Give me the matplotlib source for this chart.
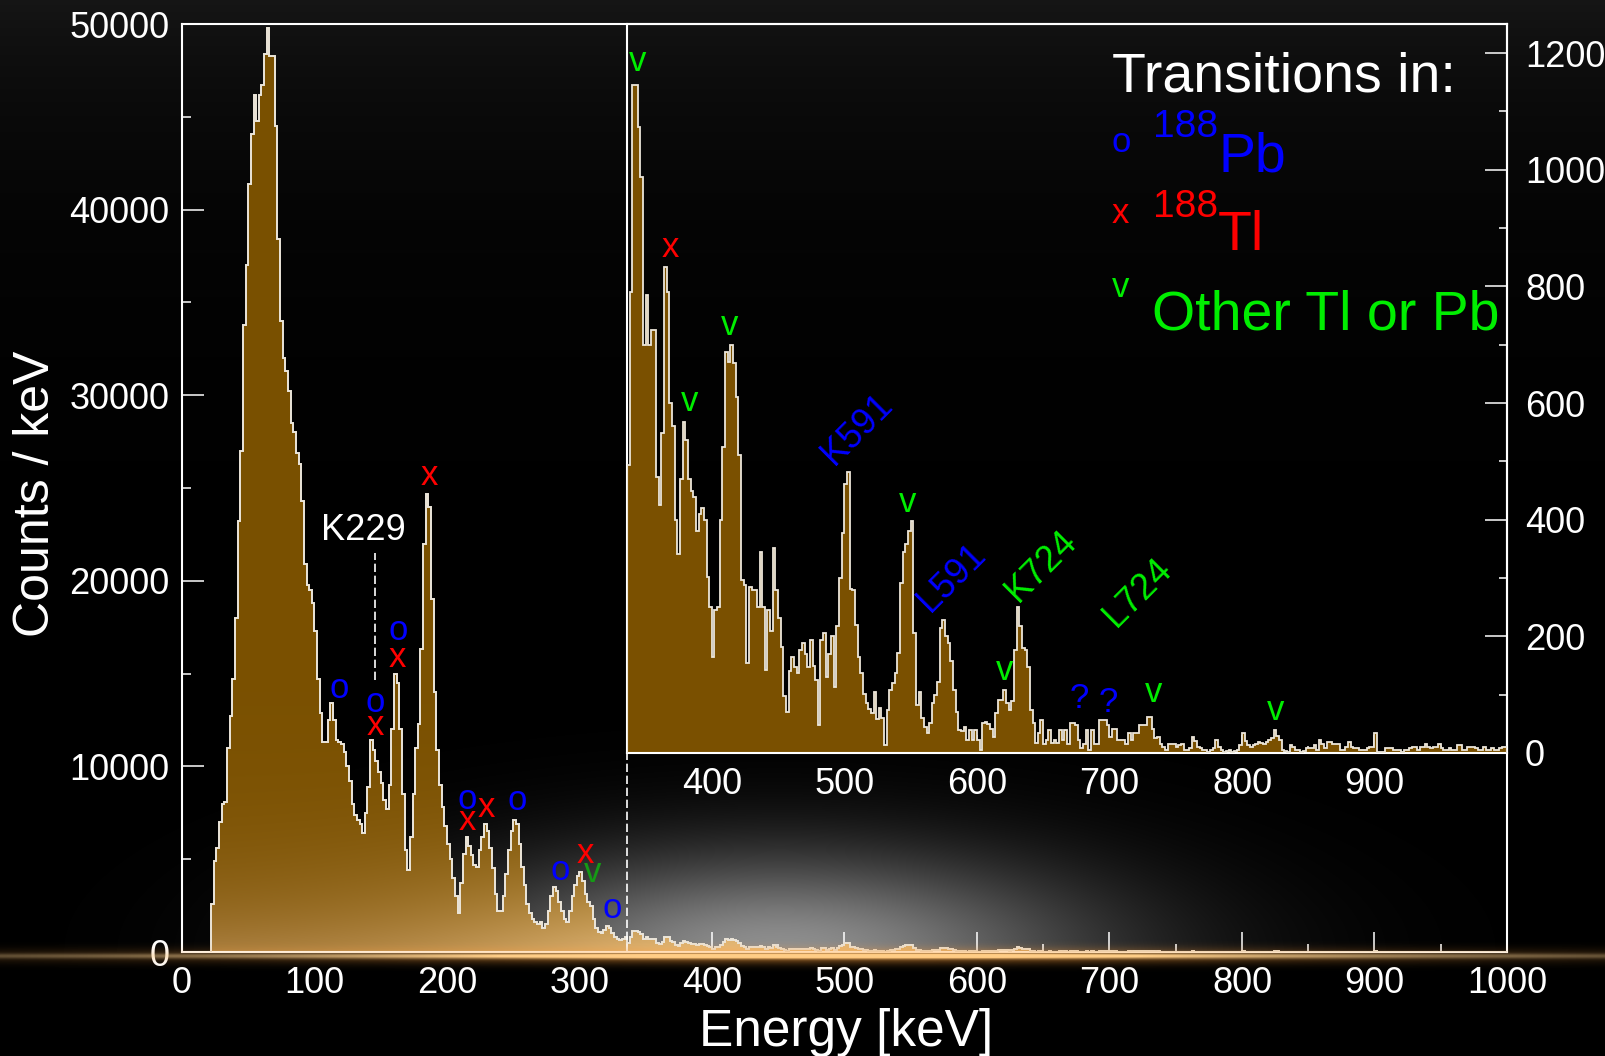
import numpy as np
import matplotlib
matplotlib.use("Agg")
import matplotlib.pyplot as plt
import matplotlib.ticker as mticker

W_PX, H_PX, DPI = 1606, 1056, 100

BIN_KEV = 2
LOW_START_KEV = 22
INSET_START_KEV = 336

# counts / keV, 2 keV bins from 22 keV up to 336 keV
LOW_COUNTS = [
    2600, 4900, 5600, 7000, 8000, 8100, 11000, 12700, 14700, 18000,
    23200, 27000, 33800, 37000, 41400, 44100, 46200, 44800, 46200, 46700,
    48400, 49800, 48300, 48300, 44500, 38400, 34000, 32000, 31300, 30200,
    28500, 28000, 26900, 26300, 24300, 20900, 19800, 19500, 18800, 17300,
    14700, 12900, 11300, 11300, 12500, 13400, 12500, 11400, 11300, 11200,
    10800, 10000, 9200, 8000, 7400, 7100, 6900, 6400, 7500, 8900,
    11400, 10900, 10300, 9700, 9100, 8200, 7700, 9000, 12000, 15000,
    14500, 12000, 8500, 5500, 4400, 6200, 8500, 11000, 12300, 16300,
    22000, 24700, 24000, 19000, 14000, 10900, 9000, 7800, 6800, 5800,
    5000, 4000, 3000, 2100, 3700, 5300, 6200, 5700, 5200, 4700,
    4600, 5500, 6200, 6900, 6500, 5600, 4500, 3100, 2200, 2200,
    3000, 4200, 5500, 6500, 7100, 6900, 5800, 4600, 3600, 2600,
    2100, 1800, 1600, 1500, 1600, 1300, 1500, 2200, 3000, 3500,
    3300, 2700, 2200, 1800, 1600, 2200, 3000, 3600, 4100, 4300,
    3800, 3100, 2700, 2500, 1800, 1300, 1100, 1000, 1200, 1400,
    1300, 1000, 800, 700, 650, 700, 800,
]

# counts / keV, 2 keV bins from 336 keV to 1000 keV (inset, and tail of main)
INSET_COUNTS = [
    494, 790, 1145, 1145, 1074, 988, 700, 785, 700, 725,
    725, 474, 425, 548, 834, 791, 600, 560, 400, 342,
    470, 568, 537, 470, 450, 439, 380, 410, 420, 399,
    302, 251, 165, 245, 250, 399, 525, 688, 671, 700,
    668, 611, 511, 297, 288, 154, 285, 280, 280, 251,
    345, 250, 142, 245, 210, 351, 280, 231, 182, 97,
    71, 140, 165, 148, 137, 177, 188, 170, 148, 194,
    150, 125, 48, 194, 205, 131, 170, 200, 114, 217,
    300, 377, 462, 482, 282, 279, 220, 165, 137, 102,
    85, 75, 68, 105, 59, 77, 60, 14, 74, 108,
    120, 137, 171, 291, 345, 359, 380, 397, 205, 82,
    105, 60, 45, 34, 51, 85, 100, 122, 214, 228,
    200, 188, 157, 108, 71, 40, 37, 45, 22, 40,
    22, 40, 22, 5, 51, 54, 50, 42, 28, 68,
    91, 91, 108, 85, 74, 90, 177, 251, 217, 180,
    176, 148, 74, 51, 17, 34, 57, 16, 22, 40,
    17, 22, 17, 40, 22, 40, 16, 51, 51, 48,
    22, 8, 16, 40, 5, 40, 16, 16, 57, 57,
    57, 48, 28, 42, 42, 22, 22, 22, 16, 34,
    22, 34, 34, 48, 48, 48, 62, 62, 42, 25,
    28, 16, 10, 5, 16, 16, 16, 11, 14, 16,
    5, 6, 8, 28, 20, 11, 8, 6, 5, 2,
    6, 8, 22, 10, 5, 2, 4, 5, 2, 4,
    5, 14, 34, 20, 14, 11, 14, 16, 19, 17,
    16, 19, 22, 25, 40, 30, 22, 5, 3, 2,
    14, 10, 5, 5, 2, 4, 8, 8, 8, 14,
    5, 22, 15, 8, 19, 19, 16, 16, 16, 5,
    5, 10, 19, 11, 8, 8, 5, 6, 6, 8,
    11, 11, 34, 2, 2, 2, 8, 8, 8, 5,
    5, 5, 2, 5, 5, 8, 11, 11, 5, 11,
    11, 16, 10, 8, 11, 11, 16, 8, 5, 5,
    8, 5, 5, 14, 14, 5, 5, 11, 11, 11,
    8, 5, 5, 11, 5, 5, 8, 5, 5, 8,
    11, 11,
]

# peak tags on the main spectrum (energy, count at text baseline, symbol, nucleus)
MAIN_TAG_KEV = [118.7, 145.7, 145.7, 162.8, 162.8, 186.7, 215.6, 215.6, 230.0,
                253.3, 285.8, 304.0, 310.0, 324.8]
MAIN_TAG_Y = [13670, 12950, 11700, 16810, 15380, 25160, 7690, 6580, 7290,
              7650, 3880, 4780, 3790, 1820]
MAIN_TAG_TXT = ["o", "o", "x", "o", "x", "x", "o", "x", "x", "o", "o", "x", "v", "o"]
MAIN_TAG_KIND = ["pb", "pb", "tl", "pb", "tl", "tl", "pb", "tl", "tl", "pb", "pb", "tl",
                 "other_dim", "pb"]

# peak tags in the inset
INSET_TAG_KEV = [343.6, 368.8, 383.4, 413.6, 548.0, 621.0, 677.0, 699.0, 733.6, 825.4]
INSET_TAG_Y = [1170, 850, 587, 716, 414, 125, 77, 71, 88, 57]
INSET_TAG_TXT = ["v", "x", "v", "v", "v", "v", "?", "?", "v", "v"]
INSET_TAG_KIND = ["other", "tl", "other", "other", "other", "other", "unknown",
                  "unknown", "other", "other"]

# conversion-electron lines in the inset (rotated)
CE_TXT = ["K591", "L591", "K724", "L724"]
CE_KEV = [492.0, 565.0, 631.0, 705.0]
CE_Y = [492, 240, 257, 214]
CE_KIND = ["pb", "pb", "other", "other"]

K229_KEV, K229_LABEL_Y, K229_LINE = 136.8, 22200, (145.7, 14650, 21500)

KIND_COLOR = {
    "pb": "#0000ff",
    "tl": "#ff0000",
    "other": "#00ee00",
    "other_dim": "#159a15",
    "unknown": "#0000ff",
}

FILL_TOP = np.array([0.478, 0.314, 0.0])
FILL_LOW = np.array([0.66, 0.49, 0.24])
EDGE = "#ece6da"
FONT = ["Liberation Sans", "DejaVu Sans"]
TICK_FS = 26
TAG_FS = 25

# axes boxes in figure pixels (left, top, right, bottom)
MAIN_BOX = (182, 24, 1507, 952)
INSET_BOX = (627, 24, 1507, 753)

GLOW_X, GLOW_SX, GLOW_SY, GLOW_PEAK = 780.0, 320.0, 100.0, 0.56


def px_rect(box):
    l, t, r, b = box
    return [l / W_PX, 1 - b / H_PX, (r - l) / W_PX, (b - t) / H_PX]


def fx(px):
    return px / W_PX


def fy(py):
    return 1 - py / H_PX


def glow_at(xp, yp, base_y):
    g = GLOW_PEAK * np.exp(-((xp - GLOW_X) / GLOW_SX) ** 2 - ((base_y - yp) / GLOW_SY) ** 2)
    return g * (yp <= base_y)


def main():
    plt.rcParams["font.family"] = FONT
    fig = plt.figure(figsize=(W_PX / DPI, H_PX / DPI), dpi=DPI)
    fig.patch.set_facecolor("black")

    base_y = MAIN_BOX[3]
    yy, xx = np.mgrid[0:H_PX, 0:W_PX].astype(float) + 0.5

    # background: dark gradient at top, white glow rising from the baseline
    bg = np.clip(0.085 * np.exp(-yy / 150.0) + glow_at(xx, yy, base_y), 0, 1)
    ax_bg = fig.add_axes([0, 0, 1, 1], zorder=-10)
    ax_bg.imshow(np.dstack([bg] * 3), extent=[0, 1, 0, 1], aspect="auto", origin="upper")
    ax_bg.set_axis_off()

    # main spectrum
    ax = fig.add_axes(px_rect(MAIN_BOX), zorder=1)
    ax.set_facecolor("none")
    low = np.asarray(LOW_COUNTS, float)
    ins = np.asarray(INSET_COUNTS, float)
    low_edges = LOW_START_KEV + BIN_KEV * np.arange(len(low) + 1)
    ins_edges = INSET_START_KEV + BIN_KEV * np.arange(len(ins) + 1)
    all_counts = np.concatenate([low, ins])
    all_edges = np.concatenate([low_edges, ins_edges[1:]])

    fill = ax.stairs(all_counts, all_edges, baseline=0, fill=True, color=FILL_TOP, lw=0, zorder=2)
    # shading of the fill: warmer toward the baseline, lit by the glow
    ck = np.linspace(0, 50000, 700)[:, None]
    ek = np.linspace(0, 1000, 400)[None, :]
    xp = MAIN_BOX[0] + ek * (MAIN_BOX[2] - MAIN_BOX[0]) / 1000.0
    yp = MAIN_BOX[3] - ck * (MAIN_BOX[3] - MAIN_BOX[1]) / 50000.0
    t = np.exp(-ck / 3400.0) * np.ones_like(ek)
    g = glow_at(xp, yp, base_y)
    grad = FILL_TOP * (1 - t[..., None]) + FILL_LOW * t[..., None] + 0.45 * g[..., None]
    grad = np.clip(grad, 0, 1)
    im = ax.imshow(grad, extent=[0, 1000, 0, 50000], origin="lower", aspect="auto",
                   zorder=2.1, interpolation="bilinear")
    im.set_clip_path(fill)
    ax.stairs(all_counts, all_edges, baseline=0, fill=False, color=EDGE, lw=1.4, zorder=3)

    ax.set_xlim(0, 1000)
    ax.set_ylim(0, 50000)
    ax.xaxis.set_major_locator(mticker.MultipleLocator(100))
    ax.xaxis.set_minor_locator(mticker.MultipleLocator(50))
    ax.yaxis.set_major_locator(mticker.MultipleLocator(10000))
    ax.yaxis.set_minor_locator(mticker.MultipleLocator(5000))
    ax.tick_params(which="both", direction="in", colors="white", labelsize=TICK_FS,
                   top=False, right=False, width=1.1)
    ax.tick_params(axis="y", which="major", length=15.8, pad=9)
    ax.tick_params(axis="y", which="minor", length=6.5)
    ax.tick_params(axis="x", which="major", length=14.4, pad=10)
    ax.tick_params(axis="x", which="minor", length=5.8)
    for s in ax.spines.values():
        s.set_color("white")
        s.set_linewidth(1.5)

    # dashed continuation of the inset edge, K229 marker
    frac = (MAIN_BOX[3] - INSET_BOX[3]) / (MAIN_BOX[3] - MAIN_BOX[1])
    ax.axvline(INSET_START_KEV, ymin=0, ymax=frac, color="white", lw=1.2,
               ls=(0, (5, 2.2)), zorder=4)
    kx, k0, k1 = K229_LINE
    ax.plot([kx, kx], [k0, k1], color="white", lw=1.2, ls=(0, (5, 2.2)), zorder=4)
    ax.text(K229_KEV, K229_LABEL_Y, "K229", color="white", fontsize=TAG_FS + 1,
            ha="center", va="baseline", zorder=5)

    for e, y, s, k in zip(MAIN_TAG_KEV, MAIN_TAG_Y, MAIN_TAG_TXT, MAIN_TAG_KIND):
        ax.text(e, y, s, color=KIND_COLOR[k], fontsize=TAG_FS, ha="center", va="baseline",
                zorder=5)

    # inset
    axi = fig.add_axes(px_rect(INSET_BOX), zorder=2)
    axi.set_facecolor("none")
    axi.stairs(ins, ins_edges, baseline=0, fill=True, color=FILL_TOP, lw=0, zorder=2)
    axi.stairs(ins, ins_edges, baseline=0, fill=False, color=EDGE, lw=1.3, zorder=3)
    axi.set_xlim(INSET_START_KEV, 1000)
    axi.set_ylim(0, 1250)
    axi.xaxis.set_major_locator(mticker.FixedLocator([400, 500, 600, 700, 800, 900]))
    axi.xaxis.set_minor_locator(mticker.FixedLocator([350, 450, 550, 650, 750, 850, 950]))
    axi.yaxis.set_major_locator(mticker.MultipleLocator(200))
    axi.yaxis.set_minor_locator(mticker.MultipleLocator(100))
    axi.yaxis.tick_right()
    axi.tick_params(which="both", direction="in", colors="white", labelsize=TICK_FS, width=1.1,
                    left=False, right=True, labelleft=False, labelright=True, top=False)
    axi.tick_params(axis="y", which="major", length=15.8, pad=13)
    axi.tick_params(axis="y", which="minor", length=5.8)
    axi.tick_params(axis="x", which="major", length=13, pad=10)
    axi.tick_params(axis="x", which="minor", length=5)
    for s in axi.spines.values():
        s.set_color("white")
        s.set_linewidth(1.5)

    for e, y, s, k in zip(INSET_TAG_KEV, INSET_TAG_Y, INSET_TAG_TXT, INSET_TAG_KIND):
        axi.text(e, y, s, color=KIND_COLOR[k], fontsize=TAG_FS, ha="center", va="baseline",
                 zorder=5)
    for s, e, y, k in zip(CE_TXT, CE_KEV, CE_Y, CE_KIND):
        axi.text(e, y, s, color=KIND_COLOR[k], fontsize=TAG_FS + 1, rotation=45,
                 rotation_mode="anchor", ha="left", va="baseline", zorder=5)

    # axis titles
    fig.text(fx(846), fy(1046), "Energy [keV]", color="white", fontsize=37,
             ha="center", va="baseline")
    fig.text(fx(36), fy(494), "Counts / keV", color="white", fontsize=36,
             ha="center", va="center", rotation=90)

    # key
    fig.text(fx(1112), fy(92), "Transitions in:", color="white", fontsize=40, va="baseline")
    fig.text(fx(1112), fy(152), "o", color=KIND_COLOR["pb"], fontsize=TAG_FS, va="baseline")
    fig.text(fx(1153), fy(137), "188", color=KIND_COLOR["pb"], fontsize=28, va="baseline")
    fig.text(fx(1219), fy(172), "Pb", color=KIND_COLOR["pb"], fontsize=40, va="baseline")
    fig.text(fx(1112), fy(223), "x", color=KIND_COLOR["tl"], fontsize=TAG_FS, va="baseline")
    fig.text(fx(1153), fy(217), "188", color=KIND_COLOR["tl"], fontsize=28, va="baseline")
    fig.text(fx(1218), fy(250), "Tl", color=KIND_COLOR["tl"], fontsize=40, va="baseline")
    fig.text(fx(1112), fy(297), "v", color=KIND_COLOR["other"], fontsize=TAG_FS, va="baseline")
    fig.text(fx(1152), fy(330), "Other Tl or Pb", color=KIND_COLOR["other"], fontsize=40,
             va="baseline")

    # warm glow just under the baseline
    band_y = base_y + 4
    bx = 0.2 + 0.8 * np.exp(-((xx - 820) / 540.0) ** 2)
    core = 0.85 * bx * np.exp(-((yy - band_y) / 2.6) ** 2)
    halo = 0.5 * bx * np.exp(-((yy - band_y) / 8.0) ** 2)
    tot = core + halo + 1e-9
    rgb = (core[..., None] * np.array([1.0, 0.92, 0.72])
           + halo[..., None] * np.array([1.0, 0.62, 0.22])) / tot[..., None]
    rgba = np.dstack([rgb, np.clip(tot, 0, 1)])
    ax_ov = fig.add_axes([0, 0, 1, 1], zorder=20)
    ax_ov.imshow(rgba, extent=[0, 1, 0, 1], aspect="auto", origin="upper")
    ax_ov.set_axis_off()
    ax_ov.patch.set_alpha(0)

    fig.savefig("out.png", dpi=DPI, facecolor="black")
    plt.close(fig)


if __name__ == "__main__":
    main()
